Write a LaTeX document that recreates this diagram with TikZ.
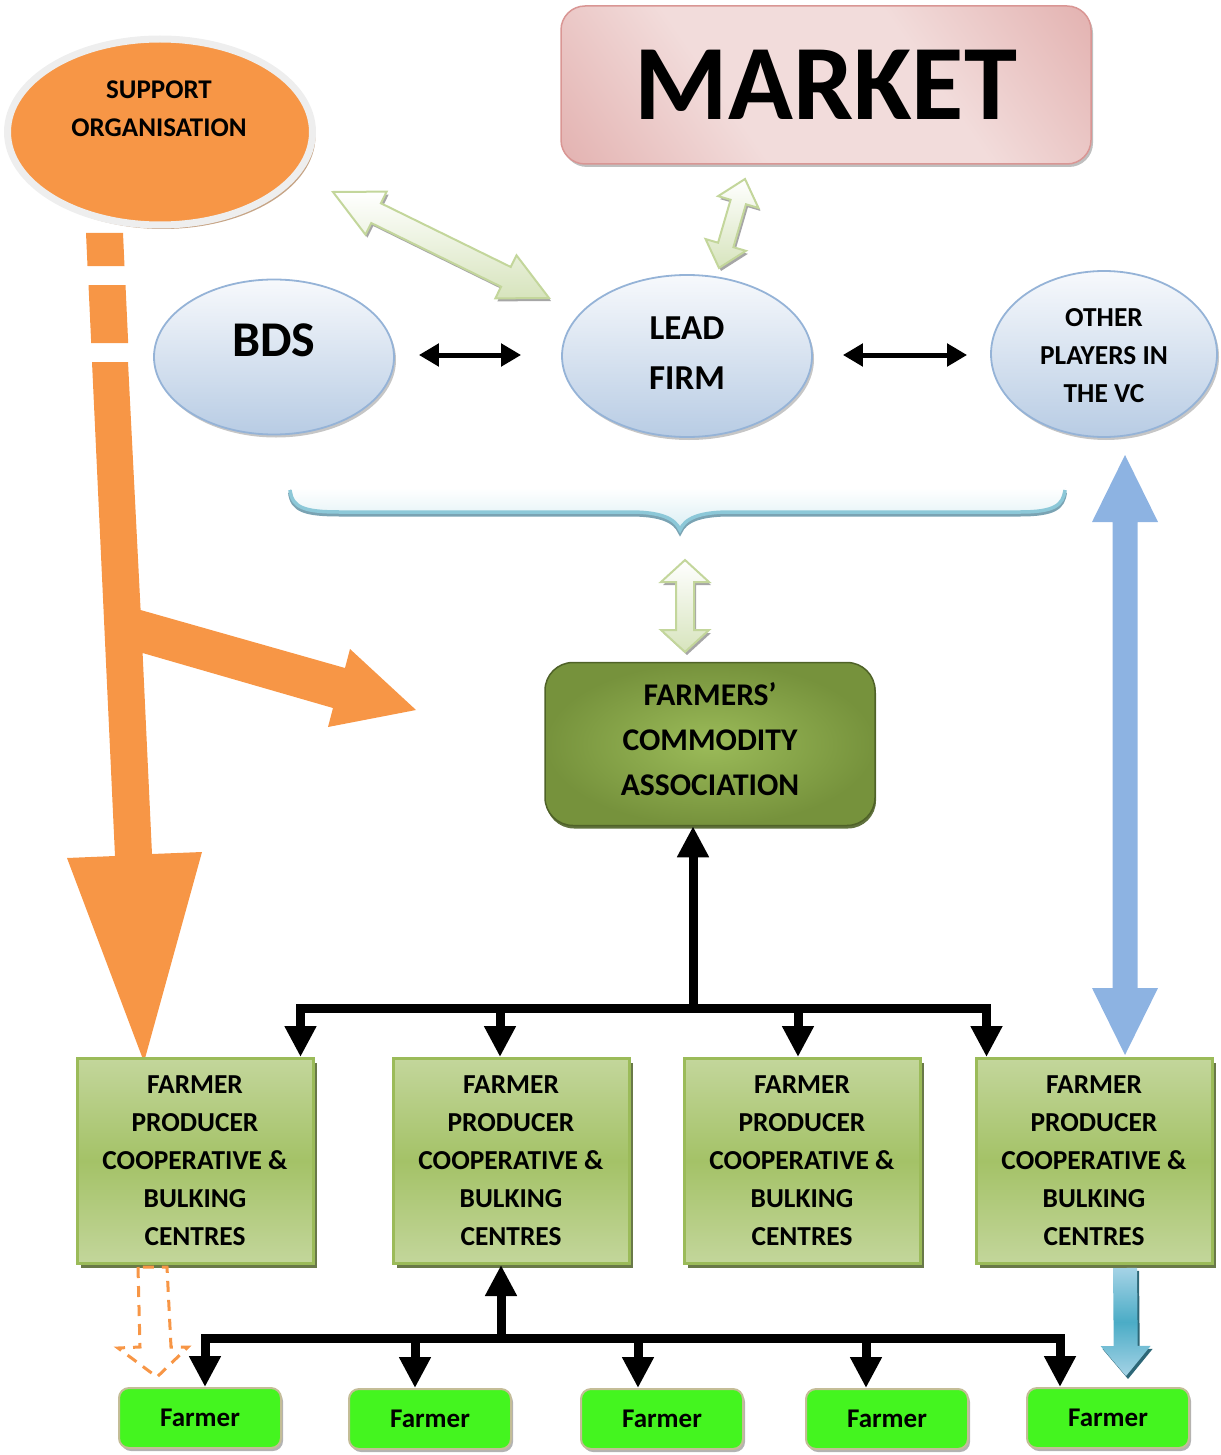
\documentclass[tikz,border=0pt]{standalone}
\usepackage{fontspec}
\setmainfont{Carlito}
\usetikzlibrary{shapes.geometric,arrows.meta,calc,shadows}
\definecolor{orng}{HTML}{F79646}
\definecolor{ringc}{HTML}{EEEEEE}
\definecolor{supshadow}{HTML}{C09A78}
\definecolor{mkdark}{HTML}{D99694}
\definecolor{mklight}{HTML}{F2DCDB}
\definecolor{bluetop}{HTML}{F7F9FC}
\definecolor{bluebot}{HTML}{B8CCE4}
\definecolor{blueline}{HTML}{95B3D7}
\definecolor{gnlight}{HTML}{D7E4BD}
\definecolor{gnline}{HTML}{C3D69B}
\definecolor{gnshadow}{HTML}{A6A6A6}
\definecolor{fcaout}{HTML}{76923C}
\definecolor{fcain}{HTML}{9BBB59}
\definecolor{fcaline}{HTML}{4F6228}
\definecolor{fpcl}{HTML}{C3D69B}
\definecolor{fpcd}{HTML}{A4C267}
\definecolor{fpcline}{HTML}{9BBB59}
\definecolor{farmg}{HTML}{44F51F}
\definecolor{farmline}{HTML}{C4BD97}
\definecolor{braceline}{HTML}{8CC8D8}
\definecolor{braceshadow}{HTML}{7AA3B3}
\definecolor{bracefill}{HTML}{DAEEF3}
\definecolor{bigblue}{HTML}{8DB3E2}
\definecolor{smblue}{HTML}{4BACC6}
\definecolor{smbluel}{HTML}{A5D3E6}
\pgfdeclarehorizontalshading{mkshade}{100bp}{color(0bp)=(mkdark); color(38bp)=(mklight); color(62bp)=(mklight); color(100bp)=(mkdark)}
% double-headed block arrow path
\newcommand\dblpath[5]{(#1) -- ($(da1)!#4!90:(#2)$) -- ($(da1)!#3!90:(#2)$) -- ($(db1)!#3!-90:(#1)$) -- ($(db1)!#4!-90:(#1)$) -- (#2) -- ($(db1)!#4!90:(#1)$) -- ($(db1)!#3!90:(#1)$) -- ($(da1)!#3!-90:(#2)$) -- ($(da1)!#4!-90:(#2)$) -- cycle}
% args: style, shadow colour, a, b, shaft half width, head half width, head length
\newcommand\dblarrow[7]{%
  \coordinate (da1) at ($(#3)!#7!(#4)$);
  \coordinate (db1) at ($(#4)!#7!(#3)$);
  \begin{scope}[transform canvas={xshift=2pt,yshift=-3pt}]
    \fill[#2] \dblpath{#3}{#4}{#5}{#6}{#7};
  \end{scope}
  \path[#1] \dblpath{#3}{#4}{#5}{#6}{#7};}
\newcommand\sglpath[5]{($(#1)!#3!90:(#2)$) -- ($(db1)!#3!-90:(#1)$) -- ($(db1)!#4!-90:(#1)$) -- (#2) -- ($(db1)!#4!90:(#1)$) -- ($(db1)!#3!90:(#1)$) -- ($(#1)!#3!-90:(#2)$) -- cycle}
\newcommand\sglarrow[7]{%
  \coordinate (db1) at ($(#4)!#7!(#3)$);
  \begin{scope}[transform canvas={xshift=2pt,yshift=-3pt}]
    \fill[#2] \sglpath{#3}{#4}{#5}{#6}{#7};
  \end{scope}
  \path[#1] \sglpath{#3}{#4}{#5}{#6}{#7};}
\tikzset{
  txt/.style={font=\bfseries\fontsize{27pt}{38pt}\selectfont, align=center, inner sep=0pt},
  blueell/.style={ellipse, inner sep=0pt, top color=bluetop, bottom color=bluebot, draw=blueline, line width=1.8pt,
     drop shadow={shadow xshift=2pt, shadow yshift=-3pt, fill=gray, opacity=0.45}},
  fpcbox/.style={rectangle, minimum width=236pt, minimum height=205pt, inner sep=0pt,
     top color=fpcl, bottom color=fpcl, middle color=fpcd, draw=fpcline, line width=3pt,
     drop shadow={shadow xshift=4pt, shadow yshift=-4pt, fill=fcaline, opacity=0.85},
     font=\bfseries\fontsize{27.4pt}{38pt}\selectfont, align=center},
  farmbox/.style={rectangle, rounded corners=10pt, minimum width=162pt, minimum height=60pt, inner sep=0pt,
     fill=farmg, draw=farmline, line width=2pt,
     drop shadow={shadow xshift=2pt, shadow yshift=-3pt, fill=gray, opacity=0.6},
     font=\bfseries\fontsize{27pt}{30pt}\selectfont},
  blk/.style={line width=9pt, -{Triangle[width=30pt,length=31pt]}},
  blkdbl/.style={line width=5pt, {Triangle[width=22pt,length=20pt]}-{Triangle[width=22pt,length=20pt]}},
  lgreen/.style={top color=white, bottom color=gnlight, draw=gnline, line width=2pt},
}
\begin{document}
\begin{tikzpicture}[x=1pt,y=-1pt]
\useasboundingbox (0,0) rectangle (1220,1455);

% ---------- top nodes ----------
\node[ellipse, inner sep=0pt, minimum width=305pt, minimum height=186pt, fill=orng, draw=ringc, line width=7pt,
      drop shadow={shadow xshift=3pt, shadow yshift=-4pt, fill=supshadow, opacity=0.9}] (sup) at (160,132) {};
\node[txt] (suptxt) at (159,109) {SUPPORT\\ORGANISATION};

\node[rectangle, rounded corners=24pt, minimum width=530pt, minimum height=158pt, inner sep=0pt,
      shading=mkshade, shading angle=35, draw=mkdark, line width=1.5pt,
      drop shadow={shadow xshift=2pt, shadow yshift=-3pt, fill=gray, opacity=0.5},
      font=\bfseries\fontsize{107pt}{110pt}\selectfont] (market) at (826,85) {MARKET};

\node[blueell, minimum width=240pt, minimum height=155pt] (bds) at (274,357) {};
\node[font=\bfseries\fontsize{50pt}{55pt}\selectfont, inner sep=0pt] (bdstxt) at (274,340) {BDS};
\node[blueell, minimum width=250pt, minimum height=162pt] (lead) at (687,356) {};
\node[font=\bfseries\fontsize{35pt}{50pt}\selectfont, align=center, inner sep=0pt] (leadtxt) at (687,353) {LEAD\\FIRM};
\node[blueell, minimum width=226pt, minimum height=166pt] (other) at (1104,354) {};
\node[txt, font=\bfseries\fontsize{27.4pt}{38pt}\selectfont] (othertxt) at (1104,356) {OTHER\\PLAYERS IN\\THE VC};

% ---------- light green block arrows ----------
\coordinate (g1a) at (333,192);
\coordinate (g1b) at (549,298);
\dblarrow{lgreen}{gnshadow}{g1a}{g1b}{11pt}{24pt}{48pt}
\coordinate (g2a) at (745,179);
\coordinate (g2b) at (719,268);
\dblarrow{lgreen}{gnshadow}{g2a}{g2b}{8pt}{21pt}{24pt}

% ---------- black double arrows ----------
\draw[blkdbl] ($(bds.east)+(24,-2)$) -- ($(lead.west)+(-40,-1)$);
\draw[blkdbl] ($(lead.east)+(30,-1)$) -- ($(other.west)+(-23,1)$);

% ---------- brace ----------
\fill[top color=white, bottom color=bracefill] (290,488) -- (1065,488) .. controls (1063,505) and (1055,512) .. (1020,512) -- (730,512) .. controls (700,512) and (685,518) .. (680,530) .. controls (675,518) and (660,512) .. (630,512) -- (340,512) .. controls (305,512) and (292,508) .. (290,488) -- cycle;
\draw[braceshadow, line width=4pt, transform canvas={yshift=-2.5pt}] (290,490) .. controls (292,508) and (305,512) .. (340,512) -- (630,512) .. controls (660,512) and (675,518) .. (680,530) .. controls (685,518) and (700,512) .. (730,512) -- (1020,512) .. controls (1055,512) and (1063,505) .. (1065,490);
\draw[braceline, line width=3.5pt] (290,490) .. controls (292,508) and (305,512) .. (340,512) -- (630,512) .. controls (660,512) and (675,518) .. (680,530) .. controls (685,518) and (700,512) .. (730,512) -- (1020,512) .. controls (1055,512) and (1063,505) .. (1065,490);

% ---------- FCA ----------
\node[rectangle, rounded corners=28pt, minimum width=330pt, minimum height=163pt, inner sep=0pt,
      inner color=fcain, outer color=fcaout, draw=fcaline, line width=1.5pt,
      drop shadow={shadow xshift=1pt, shadow yshift=-3pt, fill=fcaline, opacity=0.9}] (fca) at (710,744) {};
\node[font=\bfseries\fontsize{31.6pt}{45pt}\selectfont, align=center, inner sep=0pt] (fcatxt) at (710,739) {FARMERS'\\COMMODITY\\ASSOCIATION};

\coordinate (g3a) at (685,560);
\coordinate (g3b) at (685,652);
\dblarrow{lgreen}{gnshadow}{g3a}{g3b}{9pt}{24pt}{22pt}

% ---------- orange arrow from support organisation ----------
\fill[orng] (86,233) -- (123,233) -- (124.5,266) -- (87.5,266) -- cycle;
\fill[orng] (88.5,285) -- (125.5,285) -- (128.2,343) -- (91.2,343) -- cycle;
\fill[orng] (92,362) -- (128,362) -- (140.6,610) -- (345,668) -- (350,649) -- (416,710) -- (328,727) -- (333,708) -- (142.6,653) -- (152,854) -- (202,852) -- (144,1062) -- (67,858) -- (115,856) -- cycle;

% ---------- FPC boxes ----------
\node[fpcbox] (fpc1) at (195,1161) {FARMER\\PRODUCER\\COOPERATIVE \&\\BULKING\\CENTRES};
\node[fpcbox] (fpc2) at (511,1161) {FARMER\\PRODUCER\\COOPERATIVE \&\\BULKING\\CENTRES};
\node[fpcbox] (fpc3) at (802,1161) {FARMER\\PRODUCER\\COOPERATIVE \&\\BULKING\\CENTRES};
\node[fpcbox] (fpc4) at (1094,1161) {FARMER\\PRODUCER\\COOPERATIVE \&\\BULKING\\CENTRES};

% ---------- black tree to FCA ----------
\coordinate (hub1) at (693,1008);
\draw[blk] (hub1) -- (hub1 |- fca.south);
\draw[blk] (hub1) -| ($(fpc1.north east)+(-14,0)$);
\draw[blk] (hub1) -| ($(fpc2.north)+(-11,0)$);
\draw[blk] (hub1) -| ($(fpc3.north)+(-4,0)$);
\draw[blk] (hub1) -| ($(fpc4.north west)+(12,0)$);

% ---------- farmers ----------
\node[farmbox] (far1) at (200,1418) {Farmer};
\node[farmbox] (far2) at (430,1419) {Farmer};
\node[farmbox] (far3) at (662,1419) {Farmer};
\node[farmbox] (far4) at (887,1419) {Farmer};
\node[farmbox] (far5) at (1108,1418) {Farmer};

\coordinate (hub2) at (501,1338);
\draw[blk] (hub2) -- (hub2 |- fpc2.south);
\draw[blk] (hub2) -| ($(far1.north)+(5,0)$);
\draw[blk] (hub2) -| ($(far2.north)+(-15,0)$);
\draw[blk] (hub2) -| ($(far3.north)+(-24,0)$);
\draw[blk] (hub2) -| ($(far4.north)+(-21,0)$);
\draw[blk] (hub2) -| ($(far5.north)+(-48,0)$);

% ---------- orange dashed arrow ----------
\draw[orng, line width=3pt, dash pattern=on 11pt off 8pt, line join=miter]
  (138,1267) -- (140,1347) -- (118,1348) -- (157,1377) -- (188,1347) -- (171,1347) -- (167,1267) -- cycle;

% ---------- blue arrows ----------
\coordinate (b1a) at (1125,455);
\coordinate (b1b) at (1125,1055);
\coordinate (da1) at ($(b1a)!67pt!(b1b)$);
\coordinate (db1) at ($(b1b)!67pt!(b1a)$);
\fill[bigblue] \dblpath{b1a}{b1b}{12.5pt}{33pt}{67pt};

\coordinate (b2a) at (1125,1268);
\coordinate (b2b) at (1126,1376);
\sglarrow{top color=smbluel, bottom color=smbluel, middle color=smblue}{smblue!60!black}{b2a}{b2b}{12pt}{25pt}{30pt}

\end{tikzpicture}
\end{document}
